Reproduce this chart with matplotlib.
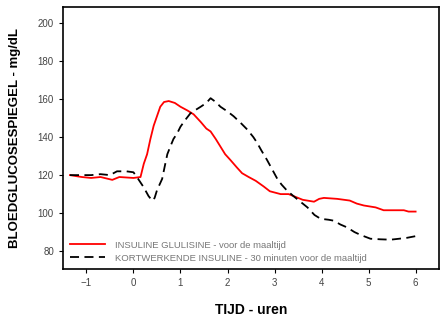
import matplotlib.pyplot as plt

plt.rcParams['font.family'] = ['Liberation Sans', 'DejaVu Sans']

# tijd (uren) en bloedglucose (mg/dL)
red_t = [-1.35, -1.1, -0.9, -0.7, -0.45, -0.3, 0.0, 0.15, 0.22, 0.29, 0.36, 0.43,
         0.5, 0.57, 0.65, 0.75, 0.88, 1.0, 1.15, 1.28, 1.43, 1.55, 1.64, 1.75,
         1.85, 1.95, 2.06, 2.2, 2.31, 2.45, 2.6, 2.77, 2.9, 3.13, 3.3, 3.45, 3.6,
         3.84, 3.95, 4.05, 4.33, 4.6, 4.75, 4.9, 5.15, 5.32, 5.6, 5.75, 5.85, 6.0]
red_g = [120, 119, 118.5, 119, 117.5, 119, 118.5, 119, 126, 131, 139, 146,
         151, 156, 158.5, 159, 158, 156, 154, 152, 148, 144.5, 143, 139,
         135, 131, 128, 124, 121, 119, 117, 114, 111.5, 110, 110, 108.5, 107,
         106, 107.5, 108, 107.5, 106.6, 105, 104, 103, 101.5, 101.5, 101.5, 100.8, 100.8]

black_t = [-1.35, -1.1, -0.9, -0.7, -0.5, -0.35, -0.15, 0.0, 0.1, 0.22, 0.32, 0.4,
           0.45, 0.5, 0.61, 0.66, 0.72, 0.8, 0.85, 0.93, 1.0, 1.1, 1.21, 1.3, 1.43,
           1.55, 1.64, 1.75, 1.85, 2.0, 2.13, 2.3, 2.42, 2.55, 2.63, 2.72, 2.84,
           2.95, 3.06, 3.15, 3.26, 3.4, 3.55, 3.7, 3.85, 3.98, 4.15, 4.26, 4.4,
           4.54, 4.7, 4.83, 5.04, 5.25, 5.47, 5.65, 5.82, 6.03]
black_g = [120, 120, 120, 120.5, 120, 122, 122, 121.5, 118, 113.5, 109, 106.5,
           108, 112, 118, 124, 131, 136, 139, 142, 145.5, 149, 152.5, 154, 156,
           158, 160.5, 158.5, 156, 153.5, 151, 147, 144, 140, 137, 133, 128,
           123, 118, 115, 112, 109, 106, 103, 99, 97, 96.5, 96, 94,
           92.5, 90, 88.5, 86.5, 86.2, 86, 86.5, 87, 88]

labels = ['INSULINE GLULISINE - voor de maaltijd',
          'KORTWERKENDE INSULINE - 30 minuten voor de maaltijd']

fig = plt.figure(figsize=(4.4, 3.2), dpi=100)
ax = fig.add_axes([0.143, 0.159, 0.855, 0.819])

ax.plot(red_t, red_g, color='red', lw=1.3, label=labels[0])
ax.plot(black_t, black_g, color='black', lw=1.3, dashes=(5, 3), label=labels[1])

ax.set_xlim(-1.5, 6.5)
ax.set_ylim(70.5, 208.5)
ax.set_xticks(range(-1, 7))
ax.set_yticks(range(80, 201, 20))
ax.tick_params(labelsize=7, labelcolor='#444444', length=3, direction='out')
for s in ax.spines.values():
    s.set_linewidth(1.2)

ax.set_xlabel('TIJD - uren', fontsize=10, fontweight='bold', labelpad=11)
ax.set_ylabel('BLOEDGLUCOSESPIEGEL - mg/dL', fontsize=9.5, fontweight='bold', labelpad=12)

leg = ax.legend(loc='lower left', frameon=False, fontsize=6.8, handlelength=3.8,
                handletextpad=1.0, labelspacing=0.4, borderaxespad=0.3,
                labelcolor='#777777')

fig.savefig('out.png', dpi=100)
